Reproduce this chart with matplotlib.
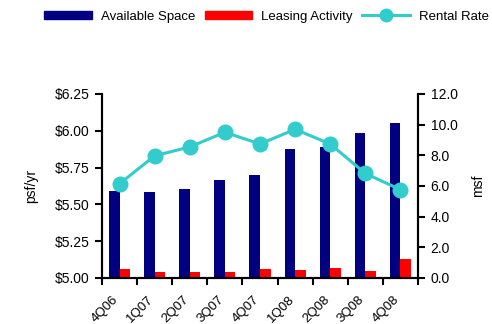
import matplotlib
matplotlib.use("Agg")
import matplotlib.pyplot as plt
from matplotlib.lines import Line2D
from matplotlib.patches import Patch
from matplotlib.transforms import ScaledTranslation
import numpy as np

plt.rcParams['font.family'] = ['Liberation Sans', 'DejaVu Sans']

quarters = ["4Q06", "1Q07", "2Q07", "3Q07", "4Q07", "1Q08", "2Q08", "3Q08", "4Q08"]
available_space = [5.67, 5.61, 5.81, 6.39, 6.72, 8.41, 8.55, 9.46, 10.11]
leasing_activity = [0.57, 0.39, 0.39, 0.39, 0.57, 0.50, 0.65, 0.45, 1.23]
rental_rate = [5.64, 5.83, 5.89, 5.99, 5.91, 6.01, 5.91, 5.71, 5.60]
left_ticks = [5.00, 5.25, 5.50, 5.75, 6.00, 6.25]
right_ticks = [0, 2, 4, 6, 8, 10, 12]

NAVY = "#000080"
RED = "#FF0000"
TEAL = "#33CCCC"

fig = plt.figure(figsize=(4.92, 3.24), dpi=100)
ax = fig.add_axes([0.2073, 0.142, 0.6423, 0.568])
ax2 = ax.twinx()

x = np.arange(len(quarters))
w = 0.3
ax2.bar(x - w / 2, available_space, width=w, color=NAVY)
ax2.bar(x + w / 2, leasing_activity, width=w, color=RED)
ax2.set_ylim(0, 12)
ax2.set_yticks(right_ticks)
ax2.set_yticklabels([f"{v:.1f}" for v in right_ticks])
ax2.set_ylabel("msf", fontsize=10, labelpad=10)

ax.set_zorder(ax2.get_zorder() + 1)
ax.patch.set_visible(False)
ax.plot(x, rental_rate, color=TEAL, lw=2.2, marker='o', ms=10.5, clip_on=False)
ax.set_ylim(5.0, 6.25)
ax.set_yticks(left_ticks)
ax.set_yticklabels([f"${v:.2f}" for v in left_ticks])
ax.set_ylabel("psf/yr", fontsize=10, labelpad=12)

ax.set_xlim(-0.5, len(quarters) - 0.5)
ax.set_xticks(np.arange(-0.5, len(quarters)))
ax.set_xticklabels([])
ax.set_xticks(x, minor=True)
ax.set_xticklabels(quarters, minor=True, rotation=45, ha='right', rotation_mode='anchor')
ax.tick_params(axis='x', which='minor', length=0, pad=11, labelsize=9.5)
ax.tick_params(axis='x', which='major', length=5, width=1.5, direction='out')
ax.tick_params(axis='y', length=5, width=1.5, labelsize=10, pad=4)
ax2.tick_params(axis='y', length=5, width=1.5, labelsize=10, pad=4)

off = ScaledTranslation(-7 / 100, 0, fig.dpi_scale_trans)
for lbl in ax.get_xticklabels(minor=True):
    lbl.set_transform(lbl.get_transform() + off)

for a in (ax, ax2):
    a.spines['top'].set_visible(False)
    for s in ('left', 'right', 'bottom'):
        a.spines[s].set_linewidth(1.5)

handles = [
    Patch(color=NAVY),
    Patch(color=RED),
    Line2D([], [], color=TEAL, lw=2.2, marker='o', ms=9),
]
fig.legend(handles, ["Available Space", "Leasing Activity", "Rental Rate"],
           loc='center', bbox_to_anchor=(0.542, 0.948), ncol=3, frameon=False,
           fontsize=9.5, handlelength=3.6, handleheight=0.6, handletextpad=0.7,
           columnspacing=0.7)

fig.savefig("out.png", dpi=100)
